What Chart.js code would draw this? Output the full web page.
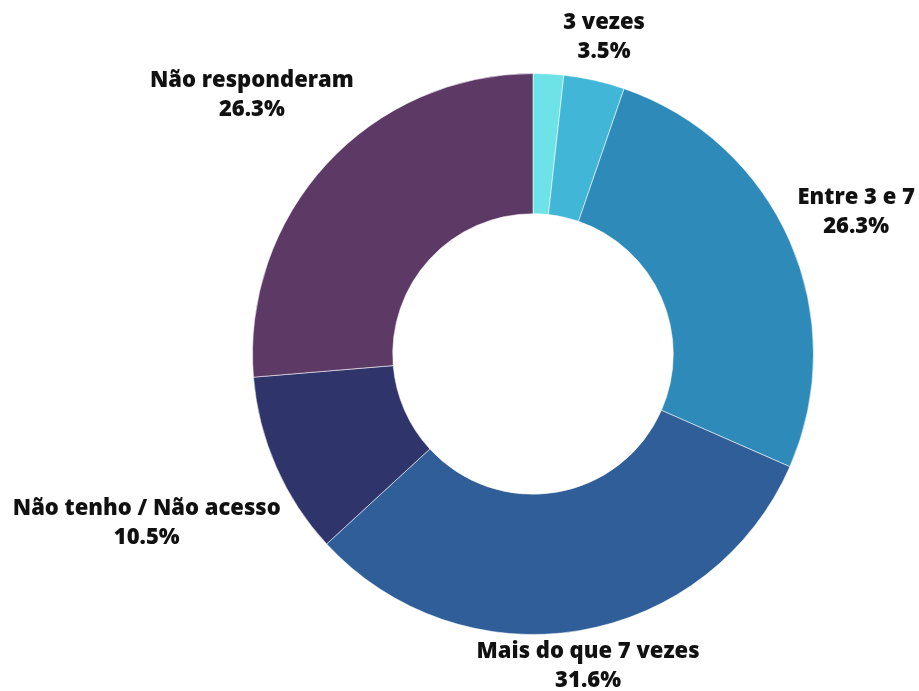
<!DOCTYPE html>
<html>
<head>
<meta charset="utf-8">
<script src="https://cdn.jsdelivr.net/npm/chart.js@4"></script>
<style>
  html, body { margin: 0; padding: 0; background: #fff; }
  #wrap { width: 919px; height: 691px; }
</style>
</head>
<body>
<div id="wrap"><canvas id="frequencia" width="919" height="691"></canvas></div>
<script>
// respostas (n = 57)
var categorias = ["Menos de 3 vezes", "3 vezes", "Entre 3 e 7", "Mais do que 7 vezes", "Não tenho / Não acesso", "Não responderam"];
var respostas = [1, 2, 15, 18, 6, 15];
var cores = ['#6ee3e7', '#42b6d6', '#2e8bb9', '#2f5e98', '#2f346b', '#5d3966'];

// rotulos fora da rosca, ao longo do angulo medio de cada fatia
var rotulosFora = {
    id: 'rotulosFora',
    afterDatasetsDraw: function(chart) {
        var ctx = chart.ctx;
        var meta = chart.getDatasetMeta(0);
        var valores = chart.data.datasets[0].data;
        var total = valores.reduce(function(a, b) { return a + b; }, 0);
        var lineH = 29;

        ctx.save();
        ctx.font = '800 22px "Open Sans"';
        ctx.fillStyle = '#111';
        ctx.textAlign = 'center';
        ctx.textBaseline = 'middle';

        meta.data.forEach(function(arc, i) {
            var pct = valores[i] / total * 100;
            if (pct < 2) return; // fatia pequena demais, sem rotulo

            var p = arc.getProps(['x', 'y', 'startAngle', 'endAngle', 'outerRadius'], true);
            var mid = (p.startAngle + p.endAngle) / 2;
            var linhas = [chart.data.labels[i], pct.toFixed(1) + '%'];
            var w = Math.max.apply(null, linhas.map(function(l) { return ctx.measureText(l).width; }));
            var h = linhas.length * lineH;
            var cx = Math.cos(mid), sy = Math.sin(mid);
            var d = p.outerRadius + 7 + Math.abs(w / 2 * cx) + Math.abs(h / 2 * sy);
            var px = p.x + cx * d;
            var py = Math.min(p.y + sy * d, chart.height - h / 2 + 4);

            linhas.forEach(function(l, k) {
                ctx.fillText(l, px, py + (k - (linhas.length - 1) / 2) * lineH);
            });
        });
        ctx.restore();
    }
};

var ctx = document.getElementById('frequencia');

var grafico = new Chart(ctx, {
    type: 'doughnut',
    data: {
        labels: categorias,
        datasets: [{
            data: respostas,
            backgroundColor: cores,
            borderColor: 'rgba(255,255,255,0.55)',
            borderWidth: 1
        }]
    },
    options: {
        responsive: false,
        animation: false,
        cutout: '50%',
        layout: {
            padding: { top: 73, bottom: 56, left: 252, right: 105 }
        },
        plugins: {
            legend: { display: false },
            tooltip: { enabled: false }
        }
    },
    plugins: [rotulosFora]
});
</script>
</body>
</html>
